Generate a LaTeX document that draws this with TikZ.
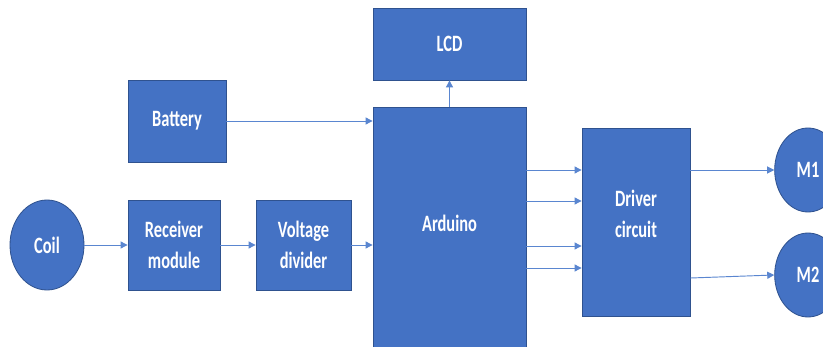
\documentclass[tikz,border=0pt]{standalone}
\usepackage{fontspec}
\setmainfont{Carlito}[FakeStretch=0.70]
\usetikzlibrary{arrows.meta,calc,positioning,shapes.geometric}
\definecolor{officeblue}{HTML}{4472C4}
\definecolor{edgeblue}{HTML}{2F528F}
\definecolor{wireblue}{HTML}{5A86D0}
\tikzset{
  block/.style={draw=edgeblue,line width=0.7pt,fill=officeblue,rectangle,align=center,
    text=white,font=\bfseries\fontsize{20}{26}\selectfont},
  roundblock/.style={block,ellipse,inner sep=0pt},
  wire/.style={draw=wireblue,line width=0.8pt,-{Triangle[length=6pt,width=6pt]}}
}

\begin{document}
\begin{tikzpicture}[x=0.03cm,y=-0.03cm]
  \clip (0,0) rectangle (823,347);
  \fill[white] (0,0) rectangle (823,347);

  \node[block,minimum width=4.59cm,minimum height=2.16cm] (lcd) at (449.5,44) {LCD};
  \node[block,minimum width=4.59cm,minimum height=7.26cm,text depth=8.5pt] (ard) at (449.5,228) {Arduino};
  \node[block,minimum width=2.94cm,minimum height=2.46cm] (bat) at (177,121) {Battery};
  \node[roundblock,minimum width=2.22cm,minimum height=2.7cm] (coil) at (47,245) {Coil};
  \node[block,minimum width=2.76cm,minimum height=2.7cm] (rcv) at (174,245) {Receiver\\module};
  \node[block,minimum width=2.85cm,minimum height=2.7cm] (vdiv) at (303.5,245) {Voltage\\divider};
  \node[block,minimum width=3.24cm,minimum height=5.64cm,text depth=14pt] (drv) at (636,222) {Driver\\circuit};
  \node[roundblock,minimum width=2.0cm,minimum height=2.52cm] (m1) at (808,170) {M1};
  \node[roundblock,minimum width=2.0cm,minimum height=2.52cm] (m2) at (808,275) {M2};

  \draw[wire] (bat.east) -- (bat.east -| ard.west);
  \draw[wire] (coil.east) -- (rcv.west);
  \draw[wire] (rcv.east) -- (vdiv.west);
  \draw[wire] (vdiv.east) -- (vdiv.east -| ard.west);
  \draw[wire] (ard.north) -- (lcd.south);
  \foreach \yy in {170,201,246,268}
    \draw[wire] (ard.east |- 0,\yy) -- (drv.west |- 0,\yy);
  \draw[wire] (drv.east |- m1) -- (m1.west);
  \draw[wire] (drv.east |- 0,278) -- (m2.west);
\end{tikzpicture}
\end{document}
